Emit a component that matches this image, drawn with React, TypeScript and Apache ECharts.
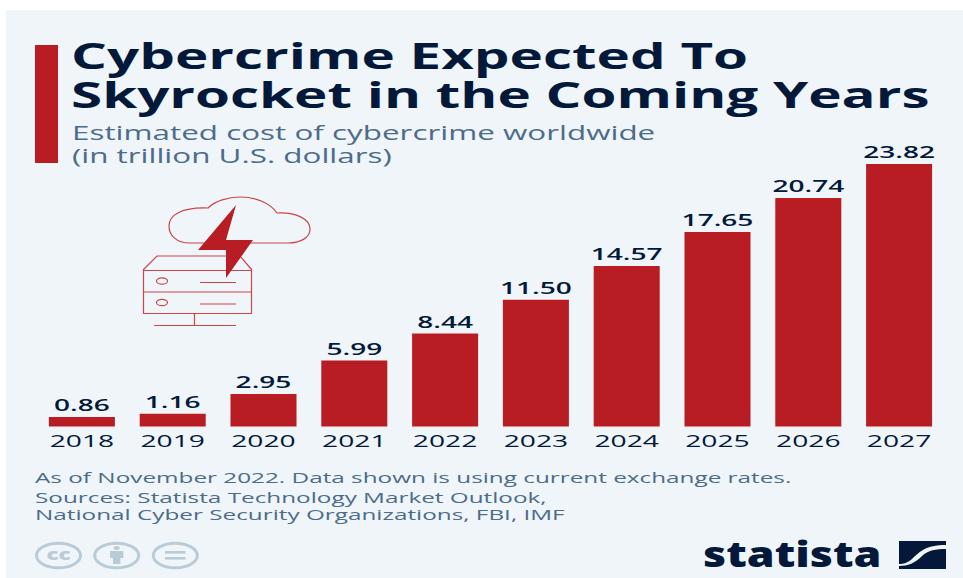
import React, { useEffect, useRef } from "react";
import * as echarts from "echarts";

const years = ["2018", "2019", "2020", "2021", "2022", "2023", "2024", "2025", "2026", "2027"];
const costs = [0.86, 1.16, 2.95, 5.99, 8.44, 11.5, 14.57, 17.65, 20.74, 23.82];
const titleLines = ["Cybercrime Expected To", "Skyrocket in the Coming Years"];
const subtitleLines = ["Estimated cost of cybercrime worldwide", "(in trillion U.S. dollars)"];
const noteLines = [
  "As of November 2022. Data shown is using current exchange rates.",
  "Sources: Statista Technology Market Outlook,",
  "National Cyber Security Organizations, FBI, IMF",
];

const NAVY = "#04193a";
const RED = "#b71d22";
const SLATE = "#4d6b8a";
const ICON_RED = "#c8474a";
const CC_GREY = "#b9cbd6";
const PANEL = "#eff5f9";
const FONT = "'Open Sans', sans-serif";

echarts.graphic.registerShape(
  "cloudOutline",
  echarts.graphic.extendPath(
    "M190 243C176 243 169 235 169 226C169 215 182 207 208 208C215 201 228 197 240 197C256 197 270 203 277 213C296 212 310 219 310 229C310 238 300 243 288 243Z",
    {}
  )
);
echarts.graphic.registerShape(
  "statistaMark",
  echarts.graphic.extendPath(
    "M899 541H946V545C925 545 920 552 913 558C908 563 903 564 899 564ZM946 549V569H899V566C908 566 915 563 922 556C928 550 936 549 946 549Z",
    {}
  )
);

// Horizontally widened text, positioned by its vertical centre.
const wideText = (
  text: string,
  x: number,
  y: number,
  fontSize: number,
  scaleX: number,
  fill: string,
  fontWeight: number | string = 400,
  align = "left"
) => ({
  type: "text",
  x,
  y,
  scaleX,
  silent: true,
  style: { text, x: 0, y: 0, fontFamily: FONT, fontSize, fontWeight, fill, align, verticalAlign: "middle" },
});

const line = (x1: number, y1: number, x2: number, y2: number, stroke = ICON_RED, lineWidth = 1.2) => ({
  type: "line",
  silent: true,
  shape: { x1, y1, x2, y2 },
  style: { stroke, lineWidth, fill: "none" },
});

const serverIcon = [
  { type: "cloudOutline", x: 0, y: 0, silent: true, style: { fill: "none", stroke: ICON_RED, lineWidth: 1.2 } },
  {
    type: "polyline",
    silent: true,
    shape: { points: [[143, 270], [157, 256], [240, 256], [252, 270]] },
    style: { stroke: ICON_RED, lineWidth: 1.2, fill: "none" },
  },
  { type: "rect", silent: true, shape: { x: 143.5, y: 270.5, width: 108, height: 43 }, style: { stroke: ICON_RED, lineWidth: 1.2, fill: "none" } },
  line(143, 292, 252, 292),
  { type: "ellipse", silent: true, shape: { cx: 162, cy: 281, rx: 5.5, ry: 3.2 }, style: { stroke: ICON_RED, lineWidth: 1.2, fill: "none" } },
  { type: "ellipse", silent: true, shape: { cx: 162, cy: 302.5, rx: 5.5, ry: 3.2 }, style: { stroke: ICON_RED, lineWidth: 1.2, fill: "none" } },
  line(200, 282.5, 236, 282.5),
  line(200, 304, 236, 304),
  line(194.5, 313, 194.5, 325),
  line(154, 325.5, 236, 325.5),
  {
    type: "polygon",
    silent: true,
    shape: { points: [[236, 205], [198, 250], [226, 250], [226, 278], [253, 240], [226, 240]] },
    style: { fill: RED },
  },
];

const licenceIcons = [
  { cx: 58.5 }, { cx: 116.7 }, { cx: 175.3 },
].map(({ cx }) => ({
  type: "ellipse",
  silent: true,
  shape: { cx, cy: 555.5, rx: 22, ry: 12.3 },
  style: { stroke: CC_GREY, lineWidth: 3, fill: "none" },
}));

const licenceGlyphs = [
  wideText("cc", 58.5, 554.5, 15, 1.5, CC_GREY, 800, "center"),
  { type: "ellipse", silent: true, shape: { cx: 116.7, cy: 548, rx: 3.2, ry: 2 }, style: { fill: CC_GREY } },
  { type: "rect", silent: true, shape: { x: 110, y: 551, width: 13.4, height: 7 }, style: { fill: CC_GREY } },
  { type: "rect", silent: true, shape: { x: 113, y: 558, width: 7.4, height: 6 }, style: { fill: CC_GREY } },
  { type: "rect", silent: true, shape: { x: 165, y: 551, width: 20.5, height: 2.6 }, style: { fill: CC_GREY } },
  { type: "rect", silent: true, shape: { x: 165, y: 557, width: 20.5, height: 2.6 }, style: { fill: CC_GREY } },
];

export default function App() {
  const ref = useRef<HTMLDivElement>(null);

  useEffect(() => {
    const chart = echarts.init(ref.current!, null, { renderer: "svg" });
    chart.setOption({
      animation: false,
      backgroundColor: "#ffffff",
      grid: { left: 36.5, right: 18.5, top: 162, height: 264.5 },
      xAxis: {
        type: "category",
        data: years,
        axisLine: { show: false },
        axisTick: { show: false },
        axisLabel: { show: false },
      },
      yAxis: { type: "value", min: 0, max: 24, show: false, splitLine: { show: false } },
      graphic: [
        { type: "rect", z: -10, silent: true, shape: { x: 6, y: 10, width: 957, height: 568 }, style: { fill: PANEL } },
        { type: "rect", silent: true, shape: { x: 35, y: 45, width: 23, height: 118 }, style: { fill: RED } },
        wideText(titleLines[0], 71, 56, 35, 1.615, NAVY, 700),
        wideText(titleLines[1], 71, 94.5, 35, 1.615, NAVY, 700),
        wideText(subtitleLines[0], 72, 133, 19.5, 1.61, SLATE),
        wideText(subtitleLines[1], 72, 156, 19.5, 1.61, SLATE),
        wideText(noteLines[0], 35, 477, 15, 1.62, SLATE),
        wideText(noteLines[1], 35, 497, 15, 1.62, SLATE),
        wideText(noteLines[2], 35, 514, 15, 1.62, SLATE),
        ...serverIcon,
        ...licenceIcons,
        ...licenceGlyphs,
        wideText("statista", 703, 553.5, 35, 1.28, NAVY, 800),
        { type: "statistaMark", x: 0, y: 0, silent: true, style: { fill: NAVY } },
      ],
      series: [
        {
          type: "bar",
          data: costs,
          barWidth: 66,
          itemStyle: { color: RED },
          silent: true,
        },
        {
          // Value and year captions sit on a custom series so they can be widened with the bars.
          type: "custom",
          silent: true,
          data: costs.map((v, i) => [i, v]),
          renderItem: (_: unknown, api: any) => {
            const i = api.value(0);
            const top = api.coord([i, api.value(1)]);
            const base = api.coord([i, 0]);
            return {
              type: "group",
              children: [
                wideText(costs[i].toFixed(2), top[0], top[1] - 12, 16.5, 1.7, NAVY, 600, "center"),
                wideText(years[i], base[0], base[1] + 14, 17, 1.66, NAVY, 400, "center"),
              ],
            };
          },
        },
      ],
    });
    return () => chart.dispose();
  }, []);

  return <div ref={ref} style={{ position: "fixed", left: 0, top: 0, width: 963, height: 578 }} />;
}
